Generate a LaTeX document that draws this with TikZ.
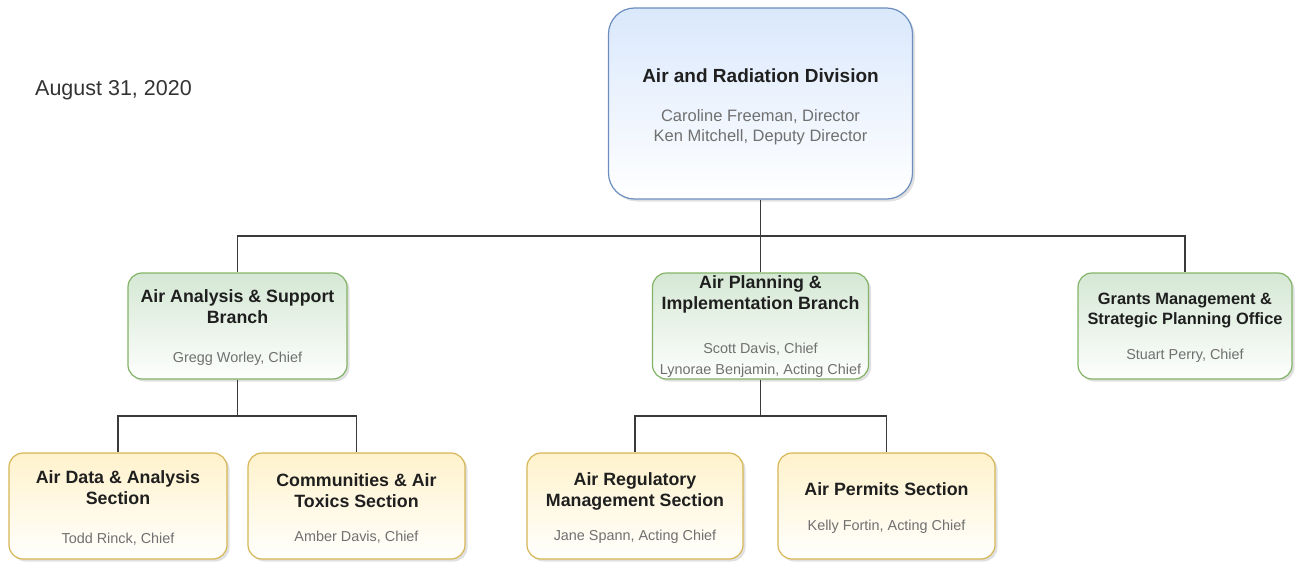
\documentclass[tikz,border=0pt]{standalone}
\usepackage{fontspec}
\setmainfont{Liberation Sans}
\usetikzlibrary{shadows}

\definecolor{bluefill}{HTML}{DAE8FC}
\definecolor{blueline}{HTML}{6C8EBF}
\definecolor{greenfill}{HTML}{D5E8D4}
\definecolor{greenline}{HTML}{82B366}
\definecolor{yellowfill}{HTML}{FFF2CC}
\definecolor{yellowline}{HTML}{D6B656}
\definecolor{headgray}{HTML}{1F1F1F}
\definecolor{namegray}{HTML}{707070}
\definecolor{wiregray}{HTML}{3A3A3A}

\tikzset{
  box/.style={draw, line width=1.2pt, rounded corners=14pt, inner sep=0pt,
    drop shadow={shadow xshift=2.5pt, shadow yshift=-2.5pt, opacity=0.2, fill=black!60}},
  divbox/.style={box, draw=blueline, top color=bluefill, bottom color=white, rounded corners=26pt},
  branchbox/.style={box, draw=greenline, top color=greenfill, bottom color=white!96!greenfill},
  sectbox/.style={box, draw=yellowline, top color=yellowfill, bottom color=white!96!yellowfill},
  headtext/.style={inner sep=0pt, align=center, text=headgray, font=\bfseries\fontsize{17.8}{21}\selectfont},
  nametext/.style={inner sep=0pt, align=center, text=namegray, font=\fontsize{14.4}{21}\selectfont},
  wire/.style={draw=wiregray, line width=1.3pt},
}

\begin{document}
\begin{tikzpicture}[x=1pt, y=-1pt]
\path[use as bounding box] (0,0) rectangle (1297,564);

% date stamp
\node[anchor=west, inner sep=0pt, text=black!80, font=\fontsize{21.5}{24}\selectfont] (date) at (35,90) {August 31, 2020};

% division
\node[divbox, minimum width=304pt, minimum height=191pt] (div) at (760.5,103.5) {};
\node[headtext, font=\bfseries\fontsize{19}{22}\selectfont] (divt) at (760.5,76) {Air and Radiation Division};
\node[nametext, font=\fontsize{16.5}{20}\selectfont] (divn) at (760.5,127) {Caroline Freeman, Director\\Ken Mitchell, Deputy Director};

% branches
\node[branchbox, minimum width=219pt, minimum height=106pt] (aas) at (237.5,326) {};
\node[headtext] (aast) at (237.5,307) {Air Analysis \& Support\\Branch};
\node[nametext] (aasn) at (237.5,359) {Gregg Worley, Chief};

\node[branchbox, minimum width=216pt, minimum height=106pt] (apib) at (760.5,326) {};
\node[headtext] (apibt) at (760.5,294.5) {Air Planning \&\\Implementation Branch};
\node[nametext] (apibn) at (760.5,360) {Scott Davis, Chief\\Lynorae Benjamin, Acting Chief};

\node[branchbox, minimum width=214pt, minimum height=106pt] (gmsp) at (1185,326) {};
\node[headtext, font=\bfseries\fontsize{16.4}{20}\selectfont] (gmspt) at (1185,311) {Grants Management \&\\Strategic Planning Office};
\node[nametext] (gmspn) at (1185,356) {Stuart Perry, Chief};

% sections
\node[sectbox, minimum width=218pt, minimum height=106pt] (adas) at (118,506) {};
\node[headtext] (adast) at (118,488) {Air Data \& Analysis\\Section};
\node[nametext] (adasn) at (118,539) {Todd Rinck, Chief};

\node[sectbox, minimum width=217pt, minimum height=106pt] (cats) at (356.5,506) {};
\node[headtext] (catst) at (356.5,490.5) {Communities \& Air\\Toxics Section};
\node[nametext] (catsn) at (356.5,537) {Amber Davis, Chief};

\node[sectbox, minimum width=216pt, minimum height=106pt] (arms) at (635,506) {};
\node[headtext] (armst) at (635,491) {Air Regulatory\\Management Section};
\node[nametext] (armsn) at (635,537) {Jane Spann, Acting Chief};

\node[sectbox, minimum width=217pt, minimum height=106pt] (aps) at (886.5,506) {};
\node[headtext] (apst) at (886.5,489) {Air Permits Section};
\node[nametext] (apsn) at (886.5,527) {Kelly Fortin, Acting Chief};

% reporting lines
\coordinate (busa) at (0,236);
\coordinate (busb) at (0,416);
\draw[wire] (div.south) -- (apib.north);
\draw[wire] (div.south |- busa) -| (aas.north);
\draw[wire] (div.south |- busa) -| (gmsp.north);

\draw[wire] (aas.south) -- (aas.south |- busb);
\draw[wire] (aas.south |- busb) -| (adas.north);
\draw[wire] (aas.south |- busb) -| (cats.north);

\draw[wire] (apib.south) -- (apib.south |- busb);
\draw[wire] (apib.south |- busb) -| (arms.north);
\draw[wire] (apib.south |- busb) -| (aps.north);
\end{tikzpicture}
\end{document}
